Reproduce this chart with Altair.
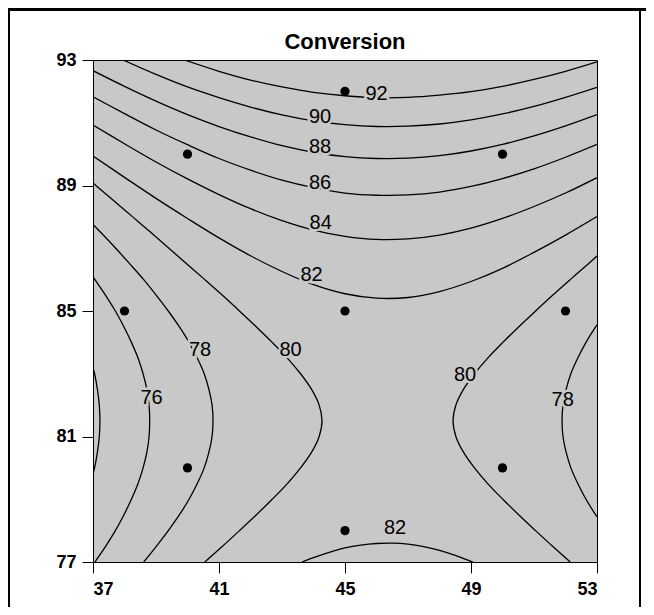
import altair as alt
import pandas as pd

# ---------------- data ----------------
x_ticks = [37, 41, 45, 49, 53]
y_ticks = [77, 81, 85, 89, 93]

design_x = [45, 40, 50, 38, 45, 52, 40, 50, 45]
design_y = [92, 90, 90, 85, 85, 85, 80, 80, 78]

grid_x = [37, 38, 39, 40, 41, 42, 43, 44, 45, 46, 47, 48, 49, 50, 51, 52, 53]

c82_top_y = [89.94, 89.26, 88.59, 87.95, 87.33, 86.76, 86.26, 85.84, 85.55, 85.41,
             85.43, 85.62, 85.94, 86.36, 86.87, 87.42, 88.01]
c84_y = [90.93, 90.33, 89.75, 89.21, 88.71, 88.26, 87.88, 87.58, 87.38, 87.28,
         87.30, 87.42, 87.64, 87.95, 88.33, 88.76, 89.25]
c86_y = [91.83, 91.29, 90.77, 90.30, 89.86, 89.49, 89.17, 88.93, 88.76, 88.69,
         88.70, 88.79, 88.97, 89.22, 89.53, 89.90, 90.31]
c88_y = [92.66, 92.16, 91.69, 91.26, 90.88, 90.55, 90.27, 90.06, 89.92, 89.86,
         89.87, 89.95, 90.10, 90.31, 90.58, 90.90, 91.26]
c90_x = [37.95, 39, 40, 41, 42, 43, 44, 45, 46, 47, 48, 49, 50, 51, 52, 53]
c90_y = [93.0, 92.54, 92.14, 91.80, 91.50, 91.25, 91.06, 90.94, 90.88, 90.89,
         90.96, 91.09, 91.28, 91.52, 91.81, 92.13]
c92_x = [39.9, 41, 42, 43, 44, 45, 46, 47, 48, 49, 50, 51, 52, 53]
c92_y = [93.0, 92.64, 92.36, 92.14, 91.97, 91.86, 91.80, 91.81, 91.88, 91.99,
         92.16, 92.38, 92.64, 92.94]

c80_left_y = [77, 77.5, 78, 78.5, 79, 79.5, 80, 80.5, 81, 81.5, 82, 82.5, 83, 83.5,
              84, 84.5, 85, 85.5, 86, 86.5, 87, 87.5, 88, 88.5, 89, 89.08]
c80_left_x = [40.55, 41.11, 41.65, 42.18, 42.69, 43.17, 43.59, 43.94, 44.18, 44.27,
              44.18, 43.94, 43.59, 43.17, 42.69, 42.18, 41.65, 41.11, 40.55, 39.98,
              39.41, 38.84, 38.26, 37.68, 37.09, 37.0]
c80_right_y = [77, 77.5, 78, 78.5, 79, 79.5, 80, 80.5, 81, 81.5, 82, 82.5, 83, 83.5,
               84, 84.5, 85, 85.5, 86, 86.5, 86.75]
c80_right_x = [52.15, 51.59, 51.05, 50.52, 50.01, 49.53, 49.11, 48.76, 48.52, 48.43,
               48.52, 48.76, 49.11, 49.53, 50.01, 50.52, 51.05, 51.59, 52.15, 52.72, 53.0]
c78_left_y = [77, 77.5, 78, 78.5, 79, 79.5, 80, 80.5, 81, 81.5, 82, 82.5, 83, 83.5,
              84, 84.5, 85, 85.5, 86, 86.5, 87, 87.5, 87.76]
c78_left_x = [38.61, 39.01, 39.39, 39.74, 40.05, 40.31, 40.53, 40.68, 40.78, 40.81,
              40.78, 40.68, 40.53, 40.31, 40.05, 39.74, 39.39, 39.01, 38.61, 38.17,
              37.72, 37.25, 37.0]
c78_right_y = [78.44, 78.5, 79, 79.5, 80, 80.5, 81, 81.5, 82, 82.5, 83, 83.5, 84, 84.5, 84.56]
c78_right_x = [53.0, 52.96, 52.65, 52.39, 52.17, 52.02, 51.92, 51.89, 51.92, 52.02,
               52.17, 52.39, 52.65, 52.96, 53.0]
c76_y = [77, 77.5, 78, 78.5, 79, 79.5, 80, 80.5, 81, 81.5, 82, 82.5, 83, 83.5, 84,
         84.5, 85, 85.5, 86, 86.09]
c76_x = [37.06, 37.40, 37.71, 37.98, 38.22, 38.43, 38.59, 38.71, 38.78, 38.80, 38.78,
         38.71, 38.59, 38.43, 38.22, 37.98, 37.71, 37.40, 37.06, 37.0]
c74_y = [79.81, 80, 80.5, 81, 81.5, 82, 82.5, 83, 83.19]
c74_x = [37.0, 37.05, 37.14, 37.20, 37.22, 37.20, 37.14, 37.05, 37.0]
c82_bot_x = [43.64, 44, 44.5, 45, 45.5, 46, 46.5, 47, 47.5, 48, 48.5, 49, 49.06]
c82_bot_y = [77.0, 77.14, 77.31, 77.45, 77.54, 77.59, 77.60, 77.57, 77.49, 77.37,
             77.21, 77.02, 77.0]

label_text = ["92", "90", "88", "86", "84", "82", "78", "80", "76", "80", "78", "82"]
label_x = [46.0, 44.21, 44.21, 44.21, 44.23, 43.94, 40.40, 43.27, 38.86, 48.81, 51.91, 46.59]
label_y = [91.93, 91.19, 90.24, 89.07, 87.8, 86.15, 83.76, 83.76, 82.23, 82.97, 82.17, 78.09]

title_text = ["Conversion"]

# ---------------- tables ----------------
contours = [
    ("82t", grid_x, c82_top_y), ("84", grid_x, c84_y), ("86", grid_x, c86_y),
    ("88", grid_x, c88_y), ("90", c90_x, c90_y), ("92", c92_x, c92_y),
    ("80l", c80_left_x, c80_left_y), ("80r", c80_right_x, c80_right_y),
    ("78l", c78_left_x, c78_left_y), ("78r", c78_right_x, c78_right_y),
    ("76", c76_x, c76_y), ("74", c74_x, c74_y), ("82b", c82_bot_x, c82_bot_y),
]
rows = []
for cid, xs_, ys_ in contours:
    for i, (xv, yv) in enumerate(zip(xs_, ys_)):
        rows.append({"cid": cid, "ord": i, "x": xv, "y": yv})
lines_df = pd.DataFrame(rows)
points_df = pd.DataFrame({"x": design_x, "y": design_y})
labels_df = pd.DataFrame({"t": label_text, "x": label_x, "y": label_y})
title_df = pd.DataFrame({"t": title_text})

BG = "#c8c8c8"
FONT = "Liberation Sans"

xs = alt.Scale(domain=[37, 53], nice=False, zero=False)
ys = alt.Scale(domain=[77, 93], nice=False, zero=False)
xax = alt.Axis(values=x_ticks, title=None, labelPadding=7, grid=False)
yax = alt.Axis(values=y_ticks, title=None, labelPadding=6, grid=False)

lines = alt.Chart(lines_df).mark_line(
    color="black", strokeWidth=1.3, clip=True, interpolate="catmull-rom"
).encode(
    x=alt.X("x:Q", scale=xs, axis=xax),
    y=alt.Y("y:Q", scale=ys, axis=yax),
    detail="cid:N",
    order="ord:Q",
)

halo = alt.Chart(labels_df).mark_text(
    font=FONT, fontSize=20, color=BG, stroke=BG, strokeWidth=5,
    align="center", baseline="middle"
).encode(x=alt.X("x:Q", scale=xs), y=alt.Y("y:Q", scale=ys), text="t:N")

labels = alt.Chart(labels_df).mark_text(
    font=FONT, fontSize=20, color="black", align="center", baseline="middle"
).encode(x=alt.X("x:Q", scale=xs), y=alt.Y("y:Q", scale=ys), text="t:N")

pts = alt.Chart(points_df).mark_circle(size=85, color="black", opacity=1).encode(
    x=alt.X("x:Q", scale=xs), y=alt.Y("y:Q", scale=ys)
)

title = alt.Chart(title_df).mark_text(
    font=FONT, fontSize=22, fontWeight="bold", color="black",
    align="center", baseline="middle", clip=False
).encode(x=alt.value(252), y=alt.value(-18), text="t:N")

# page frame decoration (black band at top, thin side lines)
frame_top = alt.Chart(points_df).mark_rect(color="black", clip=False).encode(
    x=alt.value(-85), x2=alt.value(553), y=alt.value(-52), y2=alt.value(-49)
)
frame_left = alt.Chart(points_df).mark_rect(color="black", clip=False).encode(
    x=alt.value(-85), x2=alt.value(-83), y=alt.value(-52), y2=alt.value(547)
)
frame_right = alt.Chart(points_df).mark_rect(color="black", clip=False).encode(
    x=alt.value(546), x2=alt.value(548), y=alt.value(-52), y2=alt.value(547)
)

chart = alt.layer(
    lines, halo, labels, pts, title, frame_top, frame_left, frame_right
).properties(
    width=504,
    height=502,
    autosize=alt.AutoSizeParams(type="none"),
    padding={"left": 85, "top": 52, "right": 49, "bottom": 45},
    background="white",
).configure_view(
    fill=BG, stroke="black", strokeWidth=1
).configure_axis(
    domainColor="black", tickColor="black", labelColor="black", labelFont=FONT,
    labelFontSize=18, labelFontWeight="bold", tickSize=11, grid=False,
    domainWidth=1, tickWidth=1
)

chart.save("out.html", embed_options={"renderer": "svg", "actions": False})
